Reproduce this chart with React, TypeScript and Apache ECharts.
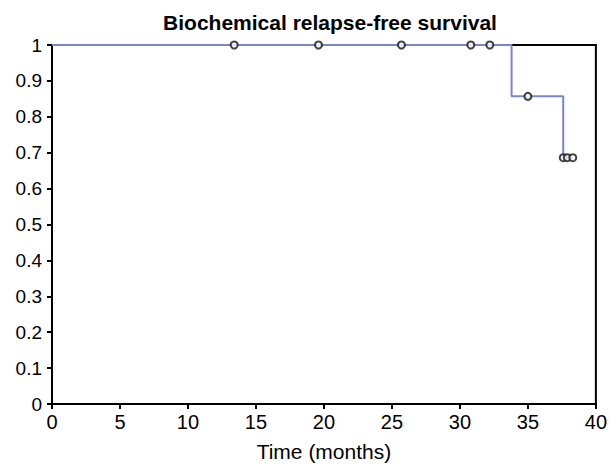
import React, { useEffect, useRef } from "react";
import * as echarts from "echarts";

const curveTimes = [0, 33.8, 33.8, 37.6, 37.6, 38.3];
const curveSurvival = [1, 1, 0.857, 0.857, 0.686, 0.686];
const censorTimes = [13.4, 19.6, 25.7, 30.8, 32.2, 35.0, 37.6, 37.9, 38.3];
const censorSurvival = [1, 1, 1, 1, 1, 0.857, 0.686, 0.686, 0.686];

export default function App() {
  const ref = useRef<HTMLDivElement>(null);
  useEffect(() => {
    if (!ref.current) return;
    const chart = echarts.init(ref.current, null, { renderer: "svg" });
    const font = "'Liberation Sans', Arial, sans-serif";
    chart.setOption({
      animation: false,
      title: {
        text: "Biochemical relapse-free survival",
        left: 325,
        textAlign: "center",
        top: 7,
        textStyle: { fontFamily: font, fontSize: 21, fontWeight: "bold", color: "#000" },
      },
      grid: {
        left: 52,
        right: 12,
        top: 45,
        bottom: 61,
        show: true,
        borderColor: "#000",
        borderWidth: 2,
        backgroundColor: "transparent",
      },
      xAxis: {
        type: "value",
        min: 0,
        max: 40,
        interval: 5,
        name: "Time (months)",
        nameLocation: "middle",
        nameGap: 37,
        nameTextStyle: { fontFamily: font, fontSize: 21, color: "#000" },
        axisLine: { show: true, lineStyle: { color: "#000", width: 2 } },
        axisTick: { show: true, length: 5, lineStyle: { color: "#000", width: 2 } },
        axisLabel: { fontFamily: font, fontSize: 20, color: "#000", margin: 8 },
        splitLine: { show: false },
      },
      yAxis: {
        type: "value",
        min: 0,
        max: 1,
        interval: 0.1,
        axisLine: { show: true, lineStyle: { color: "#000", width: 2 } },
        axisTick: { show: true, length: 5, lineStyle: { color: "#000", width: 2 } },
        axisLabel: {
          fontFamily: font,
          fontSize: 19,
          color: "#000",
          margin: 10,
          formatter: (v: number) => String(Math.round(v * 10) / 10),
        },
        splitLine: { show: false },
      },
      series: [
        {
          type: "line",
          data: curveTimes.map((t, i) => [t, curveSurvival[i]]),
          showSymbol: false,
          symbol: "none",
          lineStyle: { color: "#7b86c8", width: 2 },
          z: 3,
        },
        {
          type: "scatter",
          data: censorTimes.map((t, i) => [t, censorSurvival[i]]),
          symbol: "circle",
          symbolSize: 7,
          itemStyle: { color: "#fff", borderColor: "#111", borderWidth: 2 },
          z: 4,
        },
      ],
    });
    return () => chart.dispose();
  }, []);
  return <div ref={ref} style={{ width: 610, height: 467, position: "absolute", left: 0, top: 0 }} />;
}
